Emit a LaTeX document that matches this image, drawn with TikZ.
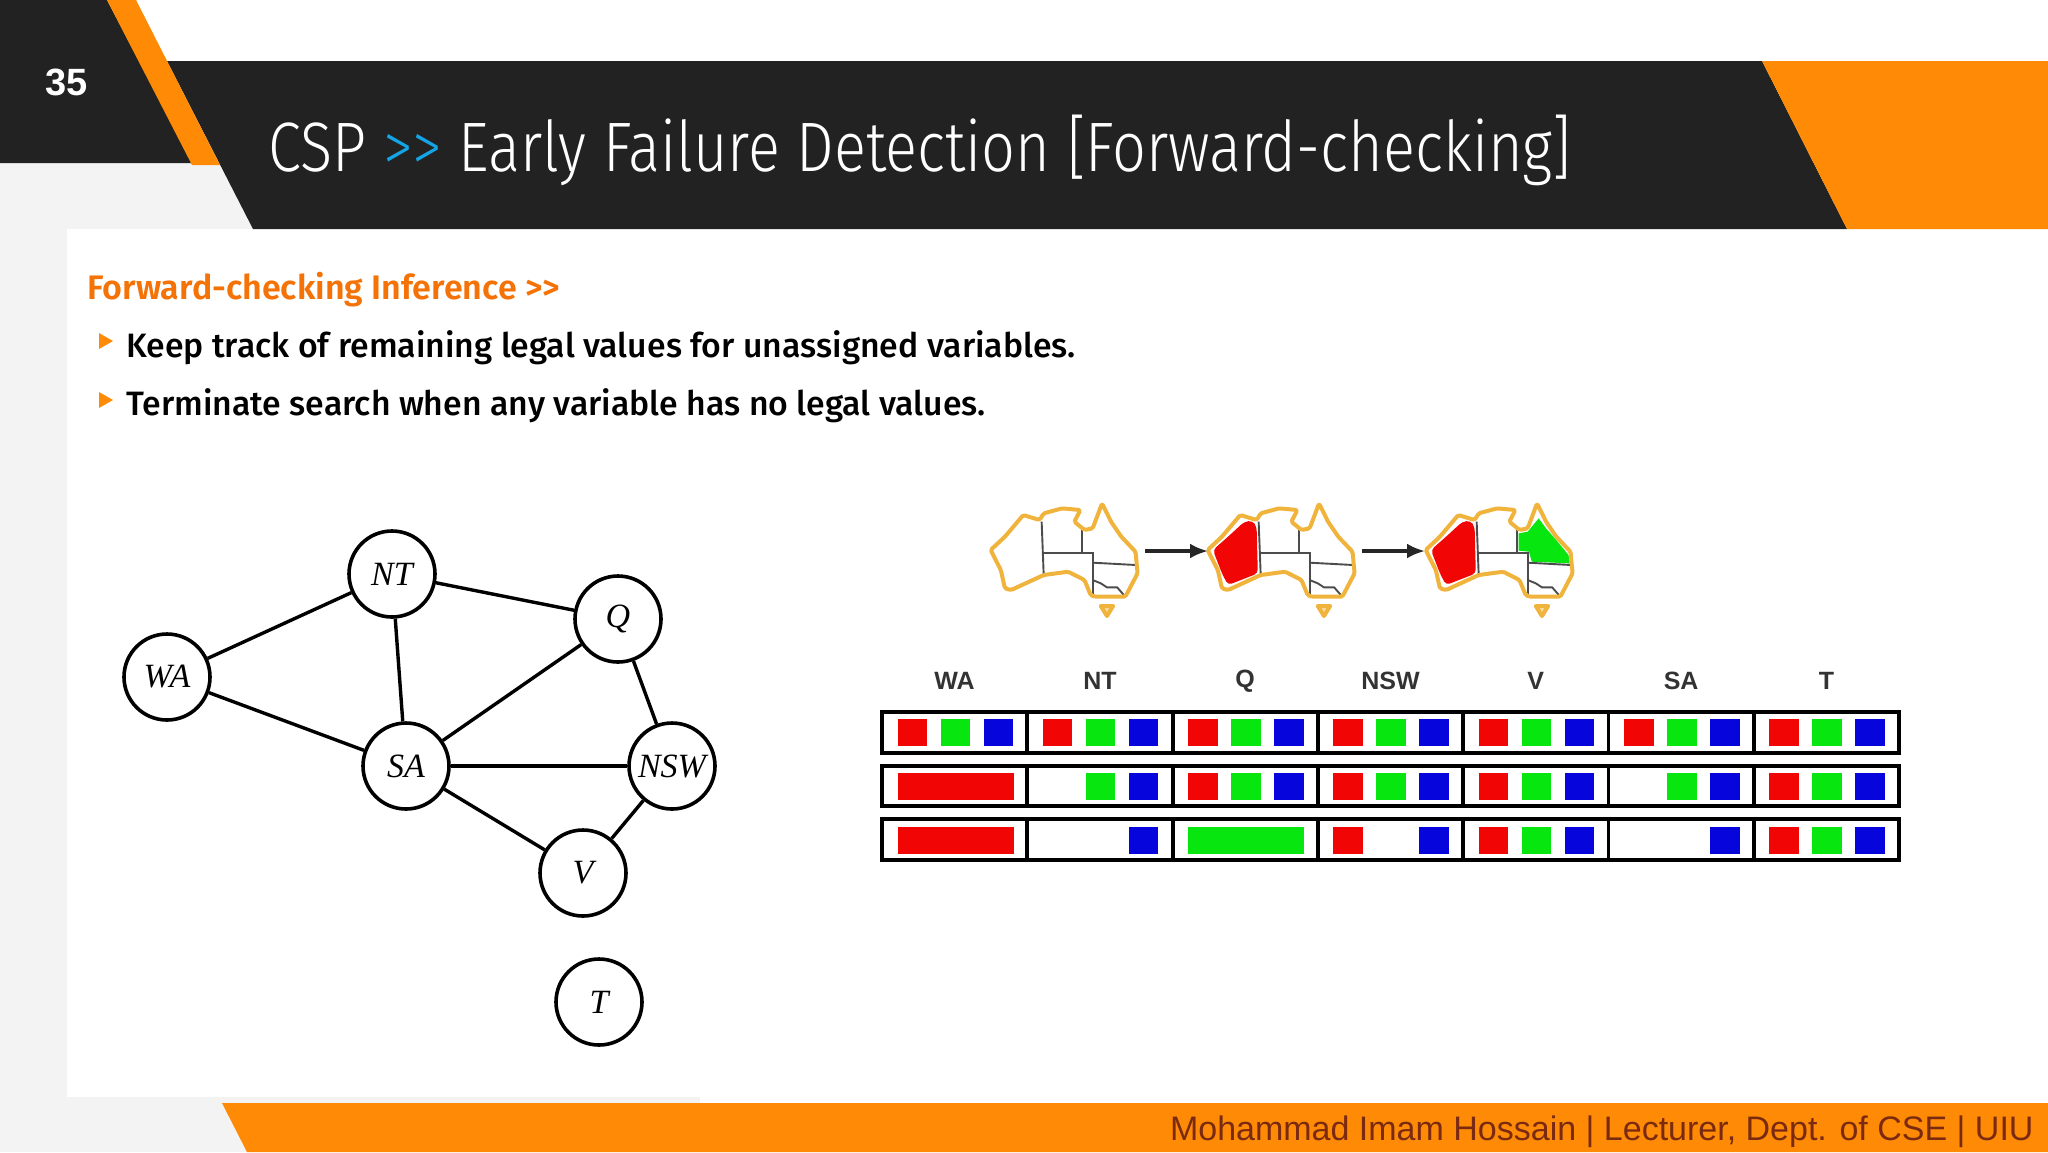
\documentclass[tikz,border=0pt]{standalone}
\usepackage{fontspec}
\setmainfont{Liberation Sans}
\newfontfamily\titlefont{Fira Sans Light}[FakeStretch=0.85]
\newfontfamily\bodyfont{Fira Sans Medium}
\newfontfamily\headfont{Fira Sans SemiBold}
\newfontfamily\graphfont{Liberation Serif}
\usetikzlibrary{arrows.meta}
\definecolor{darkband}{HTML}{222222}
\definecolor{orangeband}{HTML}{FF8A05}
\definecolor{pagegray}{HTML}{F3F3F4}
\definecolor{headorange}{HTML}{F57206}
\definecolor{chevron}{HTML}{14A5E6}
\definecolor{outlineorange}{HTML}{F0B43C}
\definecolor{cellred}{HTML}{F20505}
\definecolor{cellgreen}{HTML}{08E60F}
\definecolor{cellblue}{HTML}{0505DC}
\definecolor{footbrown}{HTML}{7A2A10}
\tikzset{
  gnode/.style={draw=black,line width=1.8pt,circle,minimum size=43pt,inner sep=0pt,font=\graphfont\itshape\fontsize{17}{17}\selectfont},
  gedge/.style={draw=black,line width=1.7pt},
  cellbox/.style={draw=black,line width=1.9pt},
  collab/.style={font=\bfseries\fontsize{12.5}{12.5}\selectfont,text=black!80},
  mapline/.style={draw=black!70,line width=.95pt},
  mapoutline/.style={draw=outlineorange,line width=2pt,line join=round},
  maparrow/.style={draw=black!85,line width=1.9pt,-{Latex[length=9pt,width=7.5pt]}},
  bullet/.style={fill=orangeband,draw=none},
}
\newcommand{\ausmap}[2]{%
 \begin{scope}[shift={(960+#1,480)},x=0.2041pt,y=-0.1667pt]
  #2
  \draw[mapline] (200,125)--(205,285);
  \draw[mapline] (205,220)--(325,220)--(325,345);
  \draw[mapline] (298,140)--(298,220);
  \draw[mapline] (325,248)--(432,255);
  \draw[mapline] (325,300)--(345,310)--(360,322)--(385,322)--(405,350);
  \draw[mapoutline,rounded corners=.8pt] (75,210)--(110,170)--(155,105)--(195,120)--(205,100)--(250,85)--(295,90)--(280,125)--(305,150)--(325,145)--(348,70)--(370,125)--(395,170)--(430,215)--(435,280)--(405,350)--(330,350)--(320,345)--(305,300)--(265,275)--(205,285)--(125,330)--(110,325)--(100,270)--cycle;
  \draw[mapoutline,fill=outlineorange!45] (345,378)--(375,378)--(360,408)--cycle;
 \end{scope}}
\newcommand{\redwa}{\fill[cellred,rounded corners=2pt] (88,210)--(125,170)--(165,125)--(185,122)--(195,140)--(198,280)--(125,315)--(110,280)--cycle;}
\begin{document}
\begin{tikzpicture}[x=0.5pt,y=-0.5pt]
\useasboundingbox (0,0) rectangle (2048,1152);
% page
\fill[white] (0,0) rectangle (2048,1152);
\fill[pagegray] (0,163) rectangle (260,1152);
\fill[pagegray] (0,1097) rectangle (700,1104);
\fill[white] (67,229) rectangle (2048,1097);
% header
\fill[darkband] (0,0)--(107,0)--(192,163)--(0,163)--cycle;
\fill[darkband] (167,61)--(1762,61)--(1847,229)--(253,229)--cycle;
\fill[orangeband] (107,0)--(136,0)--(220,165)--(192,165)--cycle;
\fill[orangeband] (1762,61)--(2048,61)--(2048,229)--(1847,229)--cycle;
\fill[orangeband] (222,1103)--(2048,1103)--(2048,1152)--(247,1152)--cycle;
% header text
\node[anchor=center,text=white,font=\bfseries\fontsize{19}{19}\selectfont] (num) at (67,82) {35};
\node[anchor=west,inner sep=0pt,text=white,font=\titlefont\fontsize{35}{35}\selectfont] (title) at (268,150) {CSP {\color{chevron}>>} Early Failure Detection [Forward-checking]};
% body text
\node[anchor=west,inner sep=0pt,text=headorange,font=\headfont\fontsize{17}{17}\selectfont] (head) at (87,290) {Forward-checking Inference >>};
\fill[bullet] (99,333)--(113,341)--(99,349)--cycle;
\fill[bullet] (99,392)--(113,400)--(99,408)--cycle;
\node[anchor=west,inner sep=0pt,text=black,font=\bodyfont\fontsize{16.9}{17}\selectfont] (b1) at (126,348) {Keep track of remaining legal values for unassigned variables.};
\node[anchor=west,inner sep=0pt,text=black,font=\bodyfont\fontsize{16.9}{17}\selectfont] (b2) at (126,406) {Terminate search when any variable has no legal values.};
% graph
\node[gnode] (NT) at (392,574) {NT};
\node[gnode] (WA) at (167,677) {WA};
\node[gnode] (Q) at (618,619) {Q};
\node[gnode] (SA) at (406,766) {SA};
\node[gnode] (NSW) at (672,766) {NSW};
\node[gnode] (V) at (583,873) {V};
\node[gnode] (T) at (599,1002) {T};
\draw[gedge] (WA)--(NT);
\draw[gedge] (WA)--(SA);
\draw[gedge] (NT)--(SA);
\draw[gedge] (NT)--(Q);
\draw[gedge] (SA)--(Q);
\draw[gedge] (SA)--(NSW);
\draw[gedge] (SA)--(V);
\draw[gedge] (Q)--(NSW);
\draw[gedge] (NSW)--(V);
% maps
\ausmap{0}{}
\ausmap{217}{\redwa}
\ausmap{435}{\redwa
  \fill[cellgreen] (303,160)--(325,155)--(352,115)--(370,145)--(395,180)--(425,225)--(428,250)--(335,245)--(328,215)--(303,212)--cycle;}
\coordinate (a1s) at (1145,551);
\coordinate (a1e) at (1208,551);
\coordinate (a2s) at (1362,551);
\coordinate (a2e) at (1425,551);
\draw[maparrow] (a1s)--(a1e);
\draw[maparrow] (a2s)--(a2e);
% table
\foreach \lab [count=\i from 0] in {WA,NT,Q,NSW,V,SA,T}{
  \pgfmathsetmacro{\cx}{882+145.3*\i}
  \node[collab] (lab\i) at ({\cx+72.6},681) {\lab};
}
\foreach \ry/\rb in {712/753,766/806,819/860}{
  \foreach \i in {0,...,6}{
    \pgfmathsetmacro{\cx}{882+145.3*\i}
    \draw[cellbox] (\cx,\ry) rectangle ({\cx+145.3},\rb);
  }
}
\foreach \sy/\pat in {719/{1,2,3,1,2,3,1,2,3,1,2,3,1,2,3,1,2,3,1,2,3},
                      773/{9,0,0,0,2,3,1,2,3,1,2,3,1,2,3,0,2,3,1,2,3},
                      827/{9,0,0,0,0,3,8,0,0,1,0,3,1,2,3,0,0,3,1,2,3}}{
  \foreach \k [count=\n from 0] in \pat {
    \pgfmathtruncatemacro{\c}{int(\n/3)}
    \pgfmathtruncatemacro{\p}{\n-3*\c}
    \pgfmathsetmacro{\cx}{882+145.3*\c}
    \pgfmathsetmacro{\sxa}{\cx+15.5+43*\p}
    \pgfmathsetmacro{\sxb}{\sxa+29.5}
    \pgfmathsetmacro{\sxc}{\cx+131.5}
    \pgfmathsetmacro{\syb}{\sy+27}
    \ifnum\k=1 \fill[cellred] (\sxa,\sy) rectangle (\sxb,\syb);\fi
    \ifnum\k=2 \fill[cellgreen] (\sxa,\sy) rectangle (\sxb,\syb);\fi
    \ifnum\k=3 \fill[cellblue] (\sxa,\sy) rectangle (\sxb,\syb);\fi
    \ifnum\k=9 \fill[cellred] (\sxa,\sy) rectangle (\sxc,\syb);\fi
    \ifnum\k=8 \fill[cellgreen] (\sxa,\sy) rectangle (\sxc,\syb);\fi
  }
}
% footer
\node[anchor=east,inner sep=0pt,text=footbrown,font=\fontsize{17}{17}\selectfont] (foot) at (2034,1132) {Mohammad Imam Hossain | Lecturer, Dept. of CSE | UIU};
\end{tikzpicture}
\end{document}
